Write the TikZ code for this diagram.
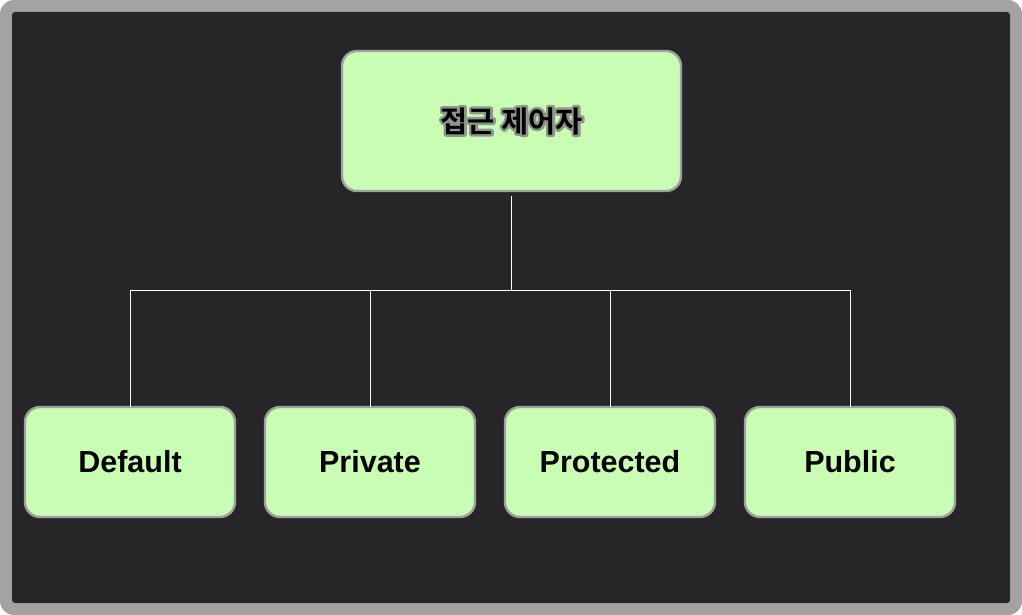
\documentclass[tikz,border=0pt]{standalone}
\usepackage{fontspec}
\setmainfont{Liberation Sans}
\newfontfamily\krfont{Noto Sans CJK KR}[BoldFont=* Bold]
\definecolor{bgdark}{HTML}{262628}
\definecolor{frame}{HTML}{A3A3A3}
\definecolor{boxfill}{HTML}{C9FDB4}
\definecolor{boxline}{HTML}{A0A0A0}
\newcommand{\halotext}[1]{%
  \rlap{\special{pdf:code q 1 Tr 5 w 1 j 0.56 0.58 0.55 RG}#1\special{pdf:code Q}}#1}
\tikzset{
  box/.style={draw=boxline, line width=2.4pt, fill=boxfill, rounded corners=15pt,
    inner sep=0pt, outer sep=0pt, font=\fontsize{30.5}{34}\selectfont\bfseries, text=black},
  wire/.style={draw=white, line width=1pt}
}
\begin{document}
\begin{tikzpicture}[x=1pt, y=-1pt]
\useasboundingbox (0,0) rectangle (1022,615);
\fill[frame, rounded corners=14pt] (0,0) rectangle (1022,615);
\fill[bgdark, rounded corners=3pt] (12,12) rectangle (1010,603);
\node[box, minimum width=339pt, minimum height=140pt] (root) at (511.5,121)
  {\krfont\fontsize{29.5}{33}\selectfont\bfseries\halotext{접근 제어자}};
\node[box, minimum width=210pt, minimum height=110pt] (def) at (130,462) {Default};
\node[box, minimum width=210pt, minimum height=110pt] (pri) at (370,462) {Private};
\node[box, minimum width=210pt, minimum height=110pt] (pro) at (610,462) {Protected};
\node[box, minimum width=210pt, minimum height=110pt] (pub) at (850,462) {Public};
\coordinate (hub) at (511,290);
\draw[wire, shorten <=5pt] (root.south -| hub) -- (hub);
\draw[wire] (def.north) -- (def.north |- hub) -- (pub.north |- hub) -- (pub.north);
\draw[wire] (pri.north) -- (pri.north |- hub);
\draw[wire] (pro.north) -- (pro.north |- hub);
\end{tikzpicture}
\end{document}
